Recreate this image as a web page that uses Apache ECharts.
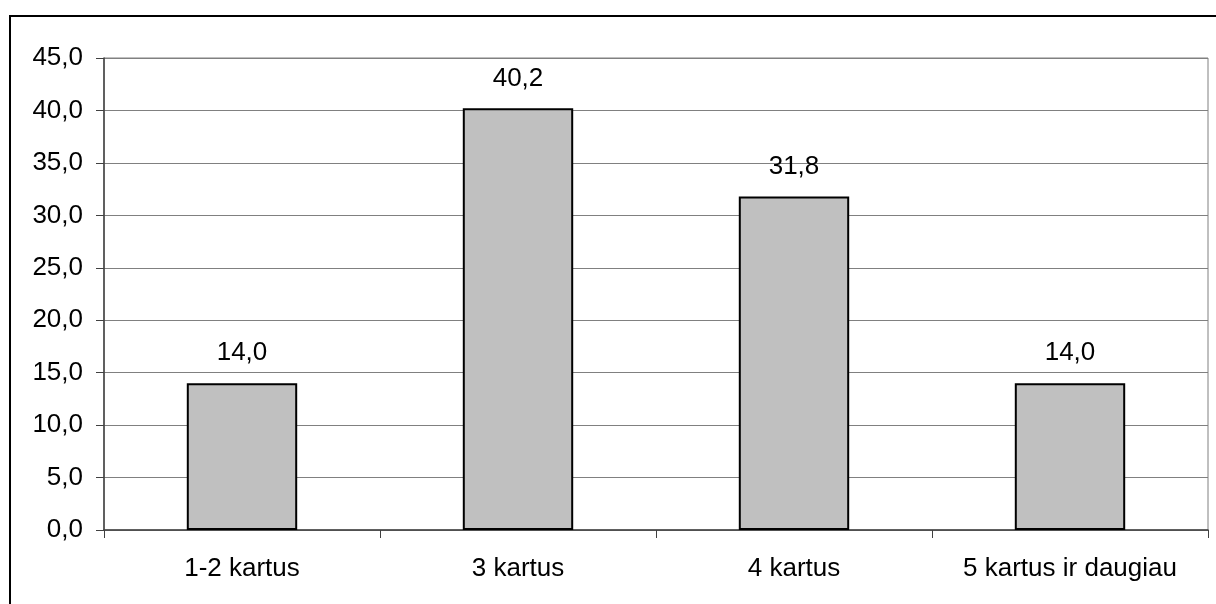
<!DOCTYPE html>
<html>
<head>
<meta charset="utf-8">
<script src="https://cdn.jsdelivr.net/npm/echarts@6/dist/echarts.min.js"></script>
<style>
  html, body { margin: 0; padding: 0; background: #fff; }
  #chart { width: 1216px; height: 604px; }
</style>
</head>
<body>
<div id="chart"></div>
<script>
// Share of respondents by how many times
const categories = ['1-2 kartus', '3 kartus', '4 kartus', '5 kartus ir daugiau'];
const values = [14.0, 40.2, 31.8, 14.0];
const yTicks = { min: 0, max: 45, interval: 5 };

const fmt = v => Number(v).toFixed(1).replace('.', ',');
const FONT = 'Liberation Sans, Arial, sans-serif';
const FS = 26;

const chart = echarts.init(document.getElementById('chart'), null, { renderer: 'canvas' });
chart.setOption({
  animation: false,
  backgroundColor: '#ffffff',
  textStyle: { fontFamily: FONT },
  graphic: [{
    type: 'rect',
    silent: true,
    shape: { x: 10, y: 16, width: 1230, height: 620 },
    style: { fill: 'none', stroke: '#000', lineWidth: 2 },
    z: 100
  }],
  grid: {
    left: 104, top: 58, right: 8, bottom: 74,
    show: true, borderColor: '#808080', borderWidth: 1, backgroundColor: 'transparent'
  },
  xAxis: {
    type: 'category',
    data: categories,
    axisLine: { lineStyle: { color: '#404040', width: 1.5 } },
    axisTick: { show: true, interval: 0, length: 8, lineStyle: { color: '#404040', width: 1 } },
    axisLabel: { color: '#000', fontSize: FS, fontFamily: FONT, margin: 26, interval: 0, hideOverlap: false },
    splitLine: { show: false }
  },
  yAxis: {
    type: 'value',
    min: yTicks.min, max: yTicks.max, interval: yTicks.interval,
    axisLine: { show: true, lineStyle: { color: '#404040', width: 1.5 } },
    axisTick: { show: true, length: 8, lineStyle: { color: '#404040', width: 1 } },
    axisLabel: { color: '#000', fontSize: FS, fontFamily: FONT, margin: 21, formatter: fmt },
    splitLine: { show: true, lineStyle: { color: '#808080', width: 1 } }
  },
  series: [{
    type: 'bar',
    data: values,
    barWidth: '40%',
    itemStyle: { color: '#c0c0c0', borderColor: '#000', borderWidth: 2 },
    label: {
      show: true, position: 'top', distance: 17,
      color: '#000', fontSize: FS, fontFamily: FONT,
      formatter: p => fmt(p.value)
    }
  }]
});
</script>
</body>
</html>
